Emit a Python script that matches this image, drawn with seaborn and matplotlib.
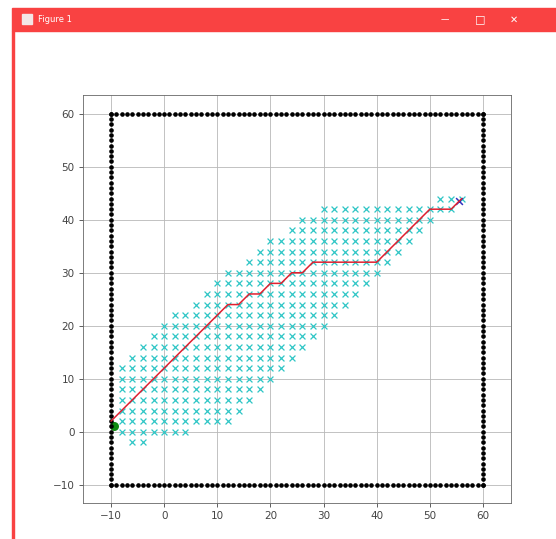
import warnings
import numpy as np
import pandas as pd
import matplotlib
matplotlib.use("Agg")
import matplotlib.pyplot as plt
from matplotlib.patches import Rectangle
import seaborn as sns

warnings.filterwarnings("ignore")

# ---- DATA ----
# border obstacles, one dot per unit along each wall
wall_min = -10
wall_max = 60

# closed-set rows (y, first x, last x), nodes every 2 units
cross_rows_y = [-2, 0, 2, 4, 6, 8, 10, 12, 14, 16, 18, 20, 22, 24, 26, 28, 30, 32, 34, 36, 38, 40, 42, 44]
cross_rows_x0 = [-6, -8, -8, -8, -8, -8, -8, -8, -6, -4, -2, 0, 2, 6, 8, 10, 12, 16, 18, 20, 24, 26, 30, 52]
cross_rows_x1 = [-4, 4, 12, 14, 16, 18, 20, 22, 24, 26, 28, 30, 32, 34, 36, 38, 40, 42, 44, 46, 48, 50, 54, 56]

# final path corners
path_x = [-10, 12, 14, 16, 18, 20, 22, 24, 26, 28, 40, 50, 54, 56]
path_y = [2, 24, 24, 26, 26, 28, 28, 30, 30, 32, 32, 42, 42, 44]

start_x, start_y = -9.5, 1.0
goal_x, goal_y = 55.5, 43.5

x_ticks = [-10, 0, 10, 20, 30, 40, 50, 60]
y_ticks = [-10, 0, 10, 20, 30, 40, 50, 60]


def build_walls():
    side = list(range(wall_min, wall_max + 1))
    ox = side + [wall_max] * len(side) + side + [wall_min] * len(side)
    oy = [wall_min] * len(side) + side + [wall_max] * len(side) + side
    return pd.DataFrame({"x": ox, "y": oy})


def build_closed():
    xs, ys = [], []
    for y, x0, x1 in zip(cross_rows_y, cross_rows_x0, cross_rows_x1):
        for x in range(x0, x1 + 1, 2):
            xs.append(x)
            ys.append(y)
    return pd.DataFrame({"x": xs, "y": ys})


def main():
    sns.set_style("ticks")
    plt.rcParams["font.family"] = ["DejaVu Sans"]

    fig = plt.figure(figsize=(5.56, 5.39), dpi=100)

    # window chrome of the screenshot
    bar_color = "#f94242"
    fig.patches.append(Rectangle((12 / 556, 1 - 31 / 539), 1, 23 / 539,
                                 transform=fig.transFigure, color=bar_color, zorder=0))
    fig.patches.append(Rectangle((12 / 556, 0), 2 / 556, 1 - 31 / 539,
                                 transform=fig.transFigure, color=bar_color, zorder=0))
    fig.patches.append(Rectangle((22 / 556, 1 - 24 / 539), 10 / 556, 10 / 539,
                                 transform=fig.transFigure, color="#f3e6e6", zorder=1))
    fig.text(38 / 556, 1 - 19.5 / 539, "Figure 1", color="white", fontsize=6,
             va="center", ha="left")
    fig.text(445 / 556, 1 - 19.5 / 539, "\u2014", color="white", fontsize=6, va="center", ha="center")
    fig.text(480 / 556, 1 - 19.5 / 539, "\u25a1", color="white", fontsize=8, va="center", ha="center")
    fig.text(514 / 556, 1 - 19.5 / 539, "\u2715", color="white", fontsize=7, va="center", ha="center")

    ax = fig.add_axes([83 / 556, 36 / 539, 428 / 556, 408 / 539])

    walls = build_walls()
    closed = build_closed()
    path = pd.DataFrame({"x": path_x, "y": path_y})

    sns.scatterplot(data=walls, x="x", y="y", ax=ax, color="k", marker="o",
                    s=11, linewidth=0, zorder=3)
    sns.scatterplot(data=closed, x="x", y="y", ax=ax, color="#2fc6c6", marker="x",
                    s=18, linewidth=0.9, zorder=3)
    sns.scatterplot(x=[start_x], y=[start_y], ax=ax, color="#108a10", marker="o",
                    s=42, linewidth=0, zorder=2)
    sns.scatterplot(x=[goal_x], y=[goal_y], ax=ax, color="#3030c0", marker="x",
                    s=24, linewidth=1.1, zorder=4)
    sns.lineplot(data=path, x="x", y="y", ax=ax, color="#e02030", sort=False,
                 estimator=None, linewidth=1.1, zorder=5)

    ax.set_xlim(-15.27, 65.27)
    ax.set_ylim(-13.45, 63.55)
    ax.set_xticks(x_ticks)
    ax.set_yticks(y_ticks)
    ax.set_xlabel("")
    ax.set_ylabel("")
    ax.grid(True, color="#b8b8b8", linewidth=0.6)
    ax.tick_params(labelsize=7.5, length=2.6, width=0.6, colors="#444444")
    for spine in ax.spines.values():
        spine.set_linewidth(0.6)
        spine.set_color("#666666")

    fig.savefig("out.png", dpi=100)


if __name__ == "__main__":
    main()
